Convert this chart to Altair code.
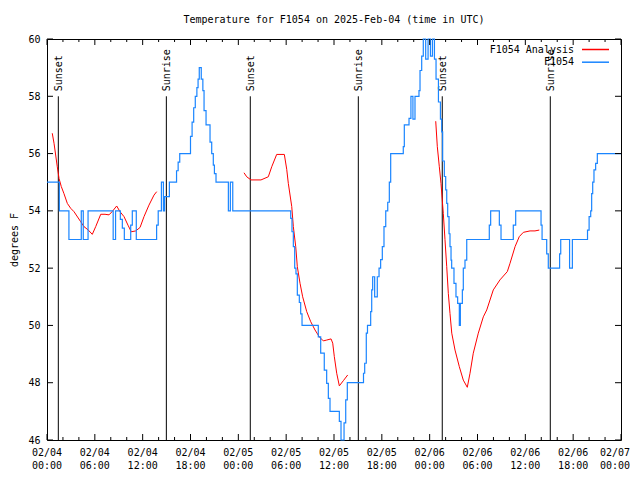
import altair as alt
import pandas as pd

FONT = "DejaVu Sans Mono"
BLUE = "#1a85ff"
RED = "#ff0000"
W, H = 574, 401

# ---- data: hours since 2025-02-04 00:00 UTC ----
obs_hours = [0.0, 1.55, 2.75, 4.3, 4.55, 5.15, 8.3, 8.6, 9.2, 9.45, 9.7, 10.5, 10.7, 11.2,
             13.75, 13.95, 14.35, 14.6, 14.75, 15.35, 16.25, 16.45, 16.65, 18.0, 18.2,
             18.4, 18.6, 18.8, 18.95, 19.1, 19.35, 19.55, 19.7, 19.95, 20.45, 20.66, 20.86, 21.0,
             21.2, 22.75, 23.0, 23.3, 30.57, 30.73, 30.9, 31.07, 31.23, 31.4, 31.65,
             31.82, 31.99, 34.03, 34.33, 34.78, 35.08, 35.29, 35.5, 36.67, 36.88, 37.26, 37.47,
             37.67, 39.7, 39.85, 40.05, 40.2, 40.6, 40.73, 40.85, 41.1, 41.43, 41.65, 41.85, 42.06,
             42.27, 42.49, 42.74, 42.94, 43.11, 44.69, 44.82, 45.41, 45.65, 45.9, 46.16, 46.66,
             46.79, 47.0, 47.2, 47.5, 47.8, 48.1, 48.35, 48.6, 48.8,
             49.1, 49.35, 49.51, 49.63, 49.84, 50.01, 50.14, 50.26, 50.43, 50.55, 50.68,
             50.76, 51.05, 51.3, 51.51, 51.72, 51.85, 52.1, 52.22, 52.43, 52.65, 55.48, 55.65,
             56.74, 56.95, 58.49, 58.79, 61.97, 62.1, 62.68, 62.88, 64.3, 64.44, 65.55, 65.9,
             67.8, 68.0, 68.2, 68.32, 68.45, 68.61, 68.82, 69.03, 72.0]
obs_temps = [55, 54, 53, 54, 53, 54, 53, 54, 53.7, 53.4, 53, 53.5, 54, 53,
             53.5, 54, 55, 54, 54.5, 55, 55.4, 55.7, 56, 56.6, 57.1,
             57.6, 58.0, 58.3, 58.6, 59.0, 58.6, 58.2, 57.5, 57.0, 56.4, 56.0, 55.6, 55.3,
             55.0, 54, 55, 54, 53.74, 53.27, 52.75, 52.0, 51.8, 51.06, 50.8,
             50.4, 50.0, 49.6, 49.03, 48.44, 47.98, 47.45, 47.0, 46.65, 46.0, 46.6, 47.4,
             48.0, 48.33, 48.68, 49.73, 50.0, 50.48, 51.24, 51.7, 51.0, 51.7, 52.0, 52.3, 52.75,
             53.45, 54.0, 54.3, 55.0, 56.0, 56.24, 57.0, 57.23, 58.0, 57.2, 58.0, 58.2,
             58.9, 59.4, 60.0, 59.3, 60.0, 59.4, 60.0, 59.3, 58.6,
             57.8, 57.2, 56.76, 55.74, 55.2, 54.73, 54.26, 53.8, 53.2, 52.75, 52.28,
             52.0, 51.47, 51.0, 50.77, 50.0, 50.77, 51.24, 52.0, 52.28, 53.0, 53.5, 54.0,
             53.5, 53.0, 53.5, 54.0, 53.5, 53.0, 52.5, 52.0, 52.5, 53.0, 52.0, 53.0,
             53.33, 53.8, 54.0, 54.6, 55.0, 55.43, 55.66, 56.0, 56.0]

an1_hours = [0.66, 0.88, 1.29, 1.51, 1.79, 2.13, 2.55, 2.97, 3.39, 4.23, 4.64, 5.18, 5.68, 6.11,
             6.74, 7.28, 7.78, 8.19, 8.74, 9.16, 9.66, 10.16, 10.57, 11.13, 11.67, 12.17, 12.79,
             13.42, 13.76]
an1_temps = [56.71, 56.36, 55.54, 55.13, 54.85, 54.6, 54.26, 54.09, 53.97, 53.62, 53.45, 53.33,
             53.18, 53.45, 53.88, 53.88, 53.86, 53.98, 54.17, 53.97, 53.8, 53.5, 53.27, 53.3,
             53.42, 53.8, 54.2, 54.55, 54.67]
an2_hours = [24.71, 25.05, 25.59, 26.84, 27.76, 28.19, 28.81, 29.77, 30.07, 30.27, 30.70, 30.90,
             31.20, 31.40, 31.74, 32.07, 32.58, 33.08, 33.62, 34.16, 34.66, 35.09, 35.63, 35.84,
             36.04, 36.34, 36.67, 37.17, 37.72]
an2_temps = [55.33, 55.19, 55.08, 55.08, 55.19, 55.54, 55.97, 55.97, 55.45, 54.96, 54.15, 53.45,
             52.75, 52.05, 51.47, 51.0, 50.48, 50.13, 49.84, 49.6, 49.46, 49.49, 49.53, 49.38,
             48.91, 48.33, 47.89, 48.07, 48.27]
an3_hours = [48.76, 48.96, 49.21, 49.42, 49.71, 49.92, 50.14, 50.34, 50.55, 50.77, 51.18, 51.72,
             52.22, 52.72, 53.06, 53.47, 54.10, 54.73, 55.16, 55.98, 56.82, 57.74, 58.08, 58.71,
             59.24, 59.75, 60.59, 61.21, 61.75]
an3_temps = [57.13, 56.24, 55.54, 54.96, 53.91, 53.0, 52.05, 51.12, 50.42, 49.73, 49.14, 48.56,
             48.09, 47.84, 48.33, 49.03, 49.73, 50.3, 50.54, 51.24, 51.59, 51.88, 52.17, 52.75,
             53.1, 53.25, 53.3, 53.3, 53.33]

sun_hours = [1.42, 14.97, 25.5, 39.05, 49.58, 63.13]
sun_labels = ["Sunset", "Sunrise", "Sunset", "Sunrise", "Sunset", "Sunrise"]
SUN_TOP, SUN_BOTTOM = 58, 46

tick_hours = list(range(0, 73, 6))
tick_dates = ["02/04"] * 4 + ["02/05"] * 4 + ["02/06"] * 4 + ["02/07"]
tick_times = ["00:00", "06:00", "12:00", "18:00"] * 3 + ["00:00"]
minor_hours = [h for h in range(0, 73, 2) if h % 6]
y_ticks = list(range(46, 61, 2))

series_names = ["F1054 Analysis", "F1054"]
series_colors = [RED, BLUE]

# ---- frames ----
obs_df = pd.DataFrame({"h": obs_hours, "t": obs_temps})
an_df = pd.concat([
    pd.DataFrame({"h": an1_hours, "t": an1_temps, "seg": 1}),
    pd.DataFrame({"h": an2_hours, "t": an2_temps, "seg": 2}),
    pd.DataFrame({"h": an3_hours, "t": an3_temps, "seg": 3}),
], ignore_index=True)
sun_df = pd.DataFrame({"h": sun_hours, "label": sun_labels,
                       "top": SUN_TOP, "bottom": SUN_BOTTOM})
xlab_df = pd.DataFrame({"h": tick_hours, "d": tick_dates, "tm": tick_times})
major_df = pd.DataFrame({"h": tick_hours})
minor_df = pd.DataFrame({"h": minor_hours})
ytick_df = pd.DataFrame({"v": y_ticks})

xscale = alt.Scale(domain=[0, 72], nice=False, zero=False)
yscale = alt.Scale(domain=[46, 60], nice=False, zero=False)

yaxis = alt.Axis(values=y_ticks, ticks=False, domain=False, grid=False,
                 labelFont=FONT, labelFontSize=10, labelColor="black", labelPadding=7,
                 title="degrees F", titleFont=FONT, titleFontSize=10, titleFontWeight="normal",
                 titleColor="black", titleX=-33, titleY=H / 2, titleAngle=270,
                 titleAlign="center", titleBaseline="middle")


def X():
    return alt.X("h:Q", scale=xscale, axis=None)


def Y(f):
    return alt.Y(f"{f}:Q", scale=yscale, axis=yaxis)


sun_rules = alt.Chart(sun_df).mark_rule(color="black", strokeWidth=1).encode(
    x=X(), y=Y("top"), y2="bottom:Q")
sun_text = alt.Chart(sun_df).mark_text(angle=270, align="left", baseline="middle", dx=5, dy=1,
                                       font=FONT, fontSize=10, color="black").encode(
    x=X(), y=Y("top"), text="label:N")

red = alt.Chart(an_df).mark_line(color=RED, strokeWidth=1).encode(
    x=X(), y=Y("t"), detail="seg:N")
blue = alt.Chart(obs_df).mark_line(color=BLUE, strokeWidth=1.2, interpolate="step-after").encode(
    x=X(), y=Y("t"))

layers = [sun_rules, sun_text, red, blue]

# inward ticks (gnuplot style)
for df, ln in [(major_df, 6), (minor_df, 3)]:
    layers.append(alt.Chart(df).mark_rule(color="black").encode(
        x=X(), y=alt.value(H), y2=alt.value(H - ln)))
    layers.append(alt.Chart(df).mark_rule(color="black").encode(
        x=X(), y=alt.value(0), y2=alt.value(ln)))
layers.append(alt.Chart(ytick_df).mark_rule(color="black").encode(
    y=Y("v"), x=alt.value(0), x2=alt.value(6)))
layers.append(alt.Chart(ytick_df).mark_rule(color="black").encode(
    y=Y("v"), x=alt.value(W), x2=alt.value(W - 6)))

# x tick labels (two lines); the last one nudged left to stay on the page
for part, shift in [(xlab_df.iloc[:-1], 0), (xlab_df.iloc[-1:], -6)]:
    for col, off in [("d", 13), ("tm", 26)]:
        layers.append(alt.Chart(part).mark_text(baseline="middle", font=FONT, fontSize=10,
                                                color="black", dx=shift).encode(
            x=X(), y=alt.value(H + off), text=f"{col}:N"))

# legend (text left of sample, gnuplot style)
for i, (name, col) in enumerate(zip(series_names, series_colors)):
    ldf = pd.DataFrame({"name": [name]})
    layers.append(alt.Chart(ldf).mark_text(align="right", baseline="middle", font=FONT,
                                           fontSize=10, color="black").encode(
        x=alt.value(527), y=alt.value(11 + 12.3 * i), text="name:N"))
    layers.append(alt.Chart(ldf).mark_rule(color=col, strokeWidth=1.5).encode(
        x=alt.value(535), x2=alt.value(562), y=alt.value(10.5 + 12.7 * i)))

chart = alt.layer(*layers).properties(
    width=W, height=H,
    title=alt.TitleParams("Temperature for F1054 on 2025-Feb-04 (time in UTC)", font=FONT,
                          fontSize=10, fontWeight="normal", color="black", anchor="middle",
                          offset=9),
    autosize=alt.AutoSizeParams(type="none"),
    padding={"left": 39, "top": 31, "right": 11, "bottom": 31},
    background="white",
).configure_view(stroke="black", strokeWidth=1)

chart.save("out.html", embed_options={"renderer": "svg", "actions": False})
